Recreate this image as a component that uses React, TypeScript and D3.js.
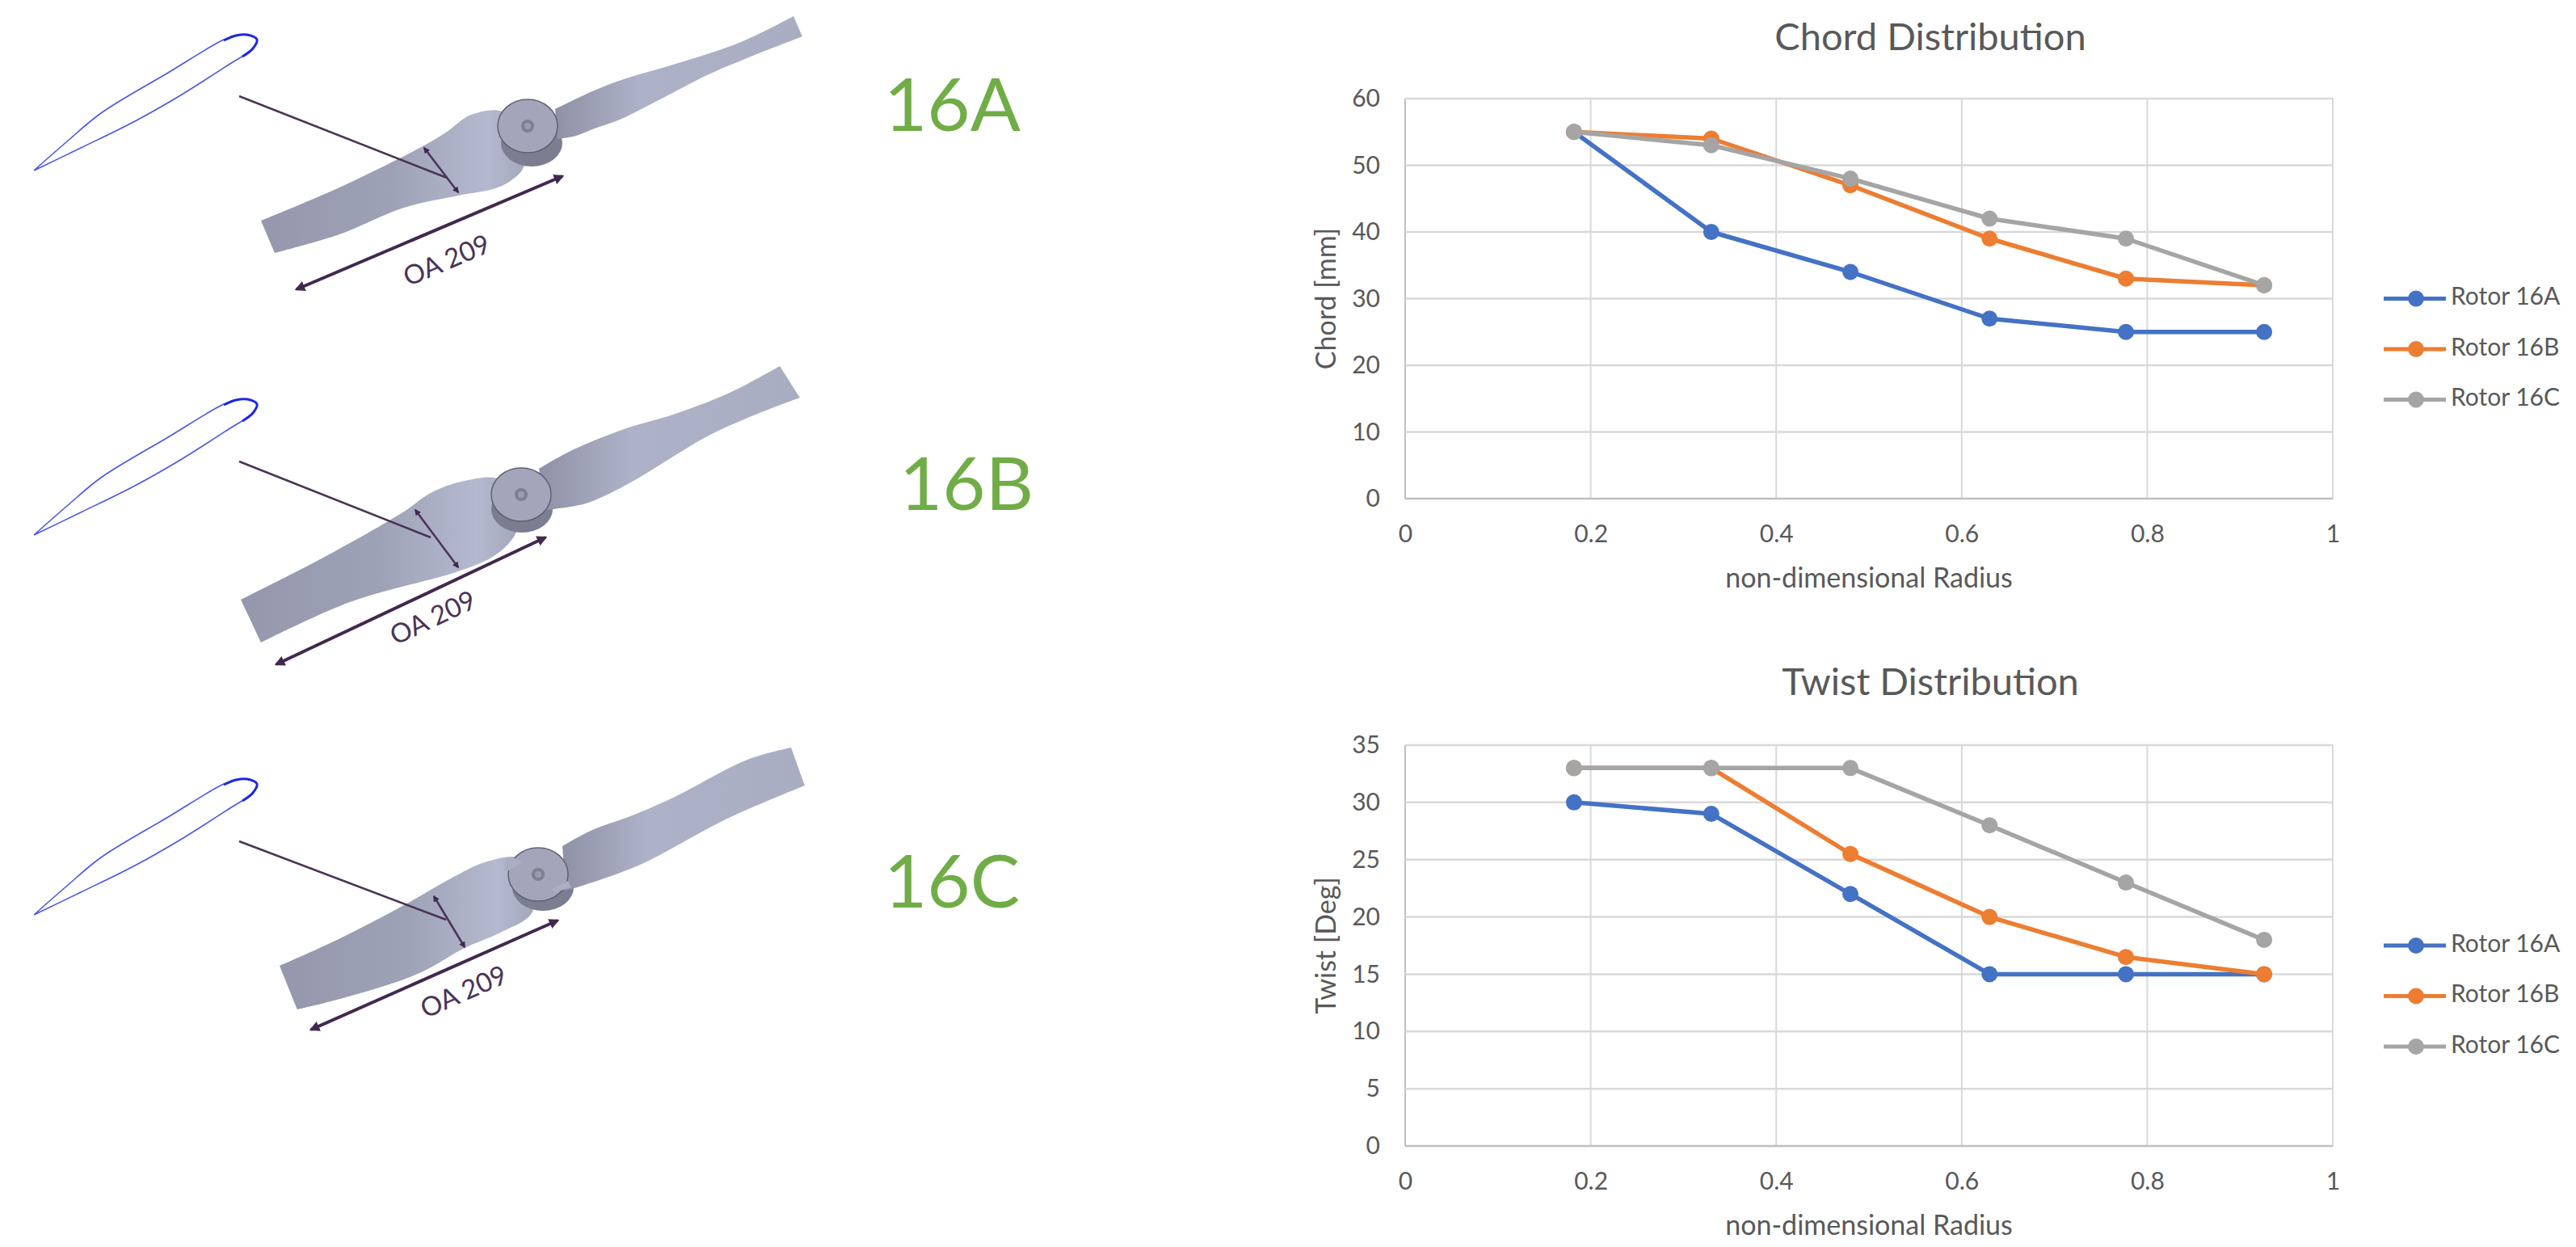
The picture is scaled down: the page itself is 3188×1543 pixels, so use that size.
import { useEffect, useRef } from 'react';
import * as d3 from 'd3';

type Pt = [number, number];

const width = 3188;
const height = 1543;

// chart data
const radius = [0.182, 0.33, 0.48, 0.63, 0.777, 0.926];
const seriesNames = ['Rotor 16A', 'Rotor 16B', 'Rotor 16C'];
const seriesColors = ['#4472C4', '#ED7D31', '#A5A5A5'];
const chordA = [55, 40, 34, 27, 25, 25];
const chordB = [55, 54, 47, 39, 33, 32];
const chordC = [55, 53, 48, 42, 39, 32];
const twistA = [30, 29, 22, 15, 15, 15];
const twistB = [33, 33, 25.5, 20, 16.5, 15];
const twistC = [33, 33, 33, 28, 23, 18];
const xTicks = [0, 0.2, 0.4, 0.6, 0.8, 1];
const chordTicks = [0, 10, 20, 30, 40, 50, 60];
const twistTicks = [0, 5, 10, 15, 20, 25, 30, 35];

// left side drawings, outlines
const airfoil: Pt[] = [[42, 211], [42, 211], [83, 175], [125, 140], [208, 90], [275, 50], [292, 44], [306, 43], [318, 49], [313, 60], [283, 80], [225, 117], [167, 150], [100, 183], [42, 211], [42, 211]];
const airfoilNose: Pt[] = [[277, 50], [292, 44], [306, 43], [318, 49], [313, 60], [300, 70]];

const rotors = [
  {
    name: '16A', labelX: 1094, labelY: 162, airfoilDy: 0,
    lowerBlade: [[323, 273], [323, 273], [340, 313], [340, 313], [420, 290], [500, 257], [567, 242], [613, 233], [633, 223], [648, 207], [650, 170], [622, 138], [583, 142], [553, 163], [525, 180], [420, 232], [323, 273], [323, 273]] as Pt[],
    upperBlade: [[687, 135], [733, 113], [775, 97], [833, 80], [917, 52], [982, 20], [982, 20], [993, 45], [993, 45], [917, 75], [875, 93], [817, 123], [767, 148], [733, 160], [713, 168], [690, 172]] as Pt[],
    hub: [653, 156], hubLower: [658, 177], leader: [[296, 119], [553, 220]] as Pt[], section: [[525, 183], [567, 238]] as Pt[],
    arrow: [[367, 358], [696, 218]] as Pt[], text: [554, 325], notches: [] as Pt[][],
  },
  {
    name: '16B', labelX: 1113, labelY: 631, airfoilDy: 451,
    lowerBlade: [[298, 742], [298, 742], [323, 795], [323, 795], [433, 745], [567, 707], [608, 690], [630, 672], [640, 655], [640, 625], [617, 593], [575, 595], [533, 610], [500, 633], [400, 690], [298, 742], [298, 742]] as Pt[],
    upperBlade: [[667, 580], [708, 557], [775, 530], [833, 513], [905, 485], [965, 453], [965, 453], [990, 492], [990, 492], [930, 515], [875, 540], [825, 570], [775, 600], [725, 623], [675, 631]] as Pt[],
    hub: [645, 612], hubLower: [646, 630], leader: [[296, 571], [533, 665]] as Pt[], section: [[514, 631], [567, 702]] as Pt[],
    arrow: [[342, 822], [675, 665]] as Pt[], text: [537, 767], notches: [] as Pt[][],
  },
  {
    name: '16C', labelX: 1094, labelY: 1123, airfoilDy: 921,
    lowerBlade: [[346, 1195], [346, 1195], [368, 1249], [368, 1249], [417, 1237], [517, 1205], [575, 1173], [617, 1155], [658, 1130], [660, 1095], [642, 1062], [600, 1067], [558, 1087], [500, 1120], [417, 1163], [346, 1195], [346, 1195]] as Pt[],
    upperBlade: [[696, 1047], [733, 1027], [780, 1010], [833, 987], [925, 940], [979, 925], [979, 925], [996, 972], [996, 972], [900, 1013], [792, 1070], [717, 1097], [700, 1102]] as Pt[],
    hub: [666, 1082], hubLower: [672, 1098], leader: [[296, 1041], [552, 1138]] as Pt[], section: [[537, 1109], [575, 1172]] as Pt[],
    arrow: [[385, 1274], [690, 1139]] as Pt[], text: [575, 1230],
    notches: [[[625, 1062], [637, 1062], [647, 1067], [630, 1077], [625, 1078]], [[683, 1100], [703, 1090], [707, 1098], [687, 1104]]] as Pt[][],
  },
];

const font = 'Lato, "Open Sans", sans-serif';
const outline = d3.line().curve(d3.curveCatmullRom.alpha(0.5));

const Rotor = ({ r }: { r: (typeof rotors)[number] }) => {
  const angle = (Math.atan2(r.arrow[1][1] - r.arrow[0][1], r.arrow[1][0] - r.arrow[0][0]) * 180) / Math.PI;
  const shift = (pts: Pt[]) => pts.map(([x, y]) => [x, y + r.airfoilDy] as Pt);
  return (
    <g>
      <path d={outline(shift(airfoil)) as string} fill="none" stroke="#4a55e6" strokeWidth={1.6} />
      <path d={outline(shift(airfoilNose)) as string} fill="none" stroke="#1c28e0" strokeWidth={3} />
      <path d={outline(r.lowerBlade) + 'Z'} fill="url(#lowerFill)" />
      <ellipse cx={r.hubLower[0]} cy={r.hubLower[1]} rx={38} ry={29} fill="#7b7e90" />
      <path d={outline(r.upperBlade) + 'Z'} fill="url(#upperFill)" />
      <ellipse cx={r.hub[0]} cy={r.hub[1]} rx={37} ry={33} fill="#a3a6ba" stroke="#5f6172" strokeWidth={1.5} />
      <ellipse cx={r.hub[0]} cy={r.hub[1]} rx={8} ry={8} fill="#7d8092" />
      <ellipse cx={r.hub[0]} cy={r.hub[1]} rx={4} ry={4} fill="#9a9db0" />
      {r.notches.map((n, i) => <path key={i} d={d3.line()(n) + 'Z'} fill="#abafc4" />)}
      <path d={d3.line()(r.leader) as string} stroke="#4b3357" strokeWidth={2.5} fill="none" />
      <path d={d3.line()(r.section) as string} stroke="#4b3357" strokeWidth={2.5} fill="none" markerStart="url(#dimArrow)" markerEnd="url(#dimArrow)" />
      <path d={d3.line()(r.arrow) as string} stroke="#42284f" strokeWidth={4} fill="none" markerStart="url(#dimArrow)" markerEnd="url(#dimArrow)" />
      <text transform={`translate(${r.text[0]},${r.text[1]}) rotate(${angle})`} textAnchor="middle" dominantBaseline="middle" fontFamily={font} fontSize={33} fill="#4b3357">OA 209</text>
      <text x={r.labelX} y={r.labelY} fontFamily={font} fontSize={92} fill="#70AD47">{r.name}</text>
    </g>
  );
};

const Distribution = ({ title, yLabel, yMax, yTicks, series, top, bottom, titleY }:
  { title: string; yLabel: string; yMax: number; yTicks: number[]; series: number[][]; top: number; bottom: number; titleY: number }) => {
  const ref = useRef<SVGGElement>(null);

  useEffect(() => {
    const left = 1739;
    const right = 2887;
    const x = d3.scaleLinear().domain([0, 1]).range([left, right]);
    const y = d3.scaleLinear().domain([0, yMax]).range([bottom, top]);
    const g = d3.select(ref.current);
    g.selectAll('*').remove();

    // grid
    g.append('g').selectAll('line').data(xTicks).join('line')
      .attr('x1', d => x(d)).attr('x2', d => x(d)).attr('y1', top).attr('y2', bottom)
      .attr('stroke', d => (d === 0 ? '#bfbfbf' : '#d9d9d9')).attr('stroke-width', 2);
    g.append('g').selectAll('line').data(yTicks).join('line')
      .attr('x1', left).attr('x2', right).attr('y1', d => y(d)).attr('y2', d => y(d))
      .attr('stroke', d => (d === 0 ? '#bfbfbf' : '#d9d9d9')).attr('stroke-width', 2.5);

    const axisX = g.append('g').attr('transform', `translate(0,${bottom})`)
      .call(d3.axisBottom(x).tickValues(xTicks).tickFormat(d => String(d)).tickSize(0).tickPadding(33));
    const axisY = g.append('g').attr('transform', `translate(${left},0)`)
      .call(d3.axisLeft(y).tickValues(yTicks).tickSize(0).tickPadding(31));
    [axisX, axisY].forEach(a => {
      a.select('.domain').remove();
      a.selectAll('text').attr('font-family', font).attr('font-size', 30).attr('fill', '#595959');
    });

    const line = d3.line<number>().x((_, i) => x(radius[i])).y(d => y(d));
    series.forEach((s, i) => {
      g.append('path').attr('d', line(s)).attr('fill', 'none')
        .attr('stroke', seriesColors[i]).attr('stroke-width', 5.5).attr('stroke-linejoin', 'round');
      g.append('g').selectAll('circle').data(s).join('circle')
        .attr('cx', (_, j) => x(radius[j])).attr('cy', d => y(d)).attr('r', 10).attr('fill', seriesColors[i]);
    });

    g.append('text').attr('x', 2389).attr('y', titleY).attr('text-anchor', 'middle')
      .attr('font-family', font).attr('font-size', 47).attr('fill', '#595959').text(title);
    g.append('text').attr('x', (left + right) / 2).attr('y', bottom + 110).attr('text-anchor', 'middle')
      .attr('font-family', font).attr('font-size', 34).attr('fill', '#595959').text('non-dimensional Radius');
    g.append('text').attr('transform', `translate(1653,${(top + bottom) / 2}) rotate(-90)`).attr('text-anchor', 'middle')
      .attr('font-family', font).attr('font-size', 34).attr('fill', '#595959').text(yLabel);

    // legend
    const mid = (top + bottom) / 2;
    const legendY = d3.scalePoint<string>().domain(seriesNames).range([mid, mid + 125]);
    seriesNames.forEach((n, i) => {
      const ly = legendY(n) as number;
      g.append('line').attr('x1', 2950).attr('x2', 3027).attr('y1', ly).attr('y2', ly)
        .attr('stroke', seriesColors[i]).attr('stroke-width', 5);
      g.append('circle').attr('cx', 2990).attr('cy', ly).attr('r', 10).attr('fill', seriesColors[i]);
      g.append('text').attr('x', 3033).attr('y', ly).attr('dominant-baseline', 'middle')
        .attr('font-family', font).attr('font-size', 30).attr('fill', '#595959').text(n);
    });
  }, []);

  return <g ref={ref} />;
};

export default function App() {
  return (
    <svg width={width} height={height} style={{ position: 'absolute', left: 0, top: 0, background: '#fff' }}>
      <defs>
        <linearGradient id="lowerFill" x1="0" y1="0" x2="1" y2="0">
          <stop offset="0" stopColor="#9598ac" />
          <stop offset="0.5" stopColor="#9ea2b6" />
          <stop offset="0.85" stopColor="#b5b9cf" />
          <stop offset="1" stopColor="#a3a7bb" />
        </linearGradient>
        <linearGradient id="upperFill" x1="0" y1="0" x2="1" y2="0">
          <stop offset="0" stopColor="#8f92a6" />
          <stop offset="0.35" stopColor="#aeb2c8" />
          <stop offset="1" stopColor="#a9adc2" />
        </linearGradient>
        <marker id="dimArrow" viewBox="0 0 10 10" refX="8" refY="5" markerWidth="3.2" markerHeight="3.2" orient="auto-start-reverse">
          <path d="M0,0L10,5L0,10Z" fill="#42284f" />
        </marker>
      </defs>
      {rotors.map(r => <Rotor key={r.name} r={r} />)}
      <Distribution title="Chord Distribution" yLabel="Chord [mm]" yMax={60} yTicks={chordTicks} series={[chordA, chordB, chordC]} top={122} bottom={617} titleY={62} />
      <Distribution title="Twist Distribution" yLabel="Twist [Deg]" yMax={35} yTicks={twistTicks} series={[twistA, twistB, twistC]} top={922} bottom={1418} titleY={860} />
    </svg>
  );
}
